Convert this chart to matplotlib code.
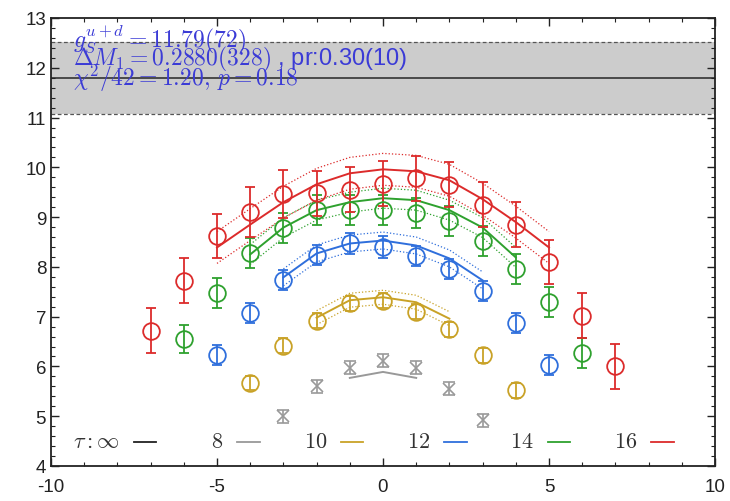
import matplotlib
matplotlib.use('Agg')
import matplotlib.pyplot as plt
from matplotlib.ticker import MultipleLocator
import numpy as np

plt.rcParams['mathtext.fontset'] = 'cm'
plt.rcParams['font.family'] = ['Liberation Sans', 'DejaVu Sans']
plt.rcParams['axes.unicode_minus'] = False

# data points per source-sink separation tau
tau_labels = ['8', '10', '12', '14', '16']
colors = ['#999999', '#c9a227', '#2f6fdc', '#2ea12e', '#dc2b2b']

x8 = [-3, -2, -1, 0, 1, 2, 3]
y8 = [5.00, 5.60, 5.97, 6.11, 5.97, 5.55, 4.92]
e8 = [0.13, 0.13, 0.13, 0.13, 0.13, 0.13, 0.13]

x10 = [-4, -3, -2, -1, 0, 1, 2, 3, 4]
y10 = [5.67, 6.42, 6.92, 7.27, 7.32, 7.10, 6.75, 6.22, 5.52]
e10 = [0.14, 0.15, 0.15, 0.15, 0.15, 0.15, 0.15, 0.15, 0.15]

x12 = [-5, -4, -3, -2, -1, 0, 1, 2, 3, 4, 5]
y12 = [6.23, 7.08, 7.73, 8.23, 8.47, 8.40, 8.22, 7.95, 7.52, 6.88, 6.02]
e12 = [0.2, 0.2, 0.2, 0.2, 0.22, 0.22, 0.2, 0.2, 0.2, 0.2, 0.2]

x14 = [-6, -5, -4, -3, -2, -1, 0, 1, 2, 3, 4, 5, 6]
y14 = [6.55, 7.48, 8.28, 8.78, 9.15, 9.15, 9.15, 9.08, 8.92, 8.52, 7.95, 7.30, 6.27]
e14 = [0.28, 0.3, 0.3, 0.3, 0.3, 0.3, 0.3, 0.3, 0.3, 0.3, 0.3, 0.3, 0.3]

x16 = [-7, -6, -5, -4, -3, -2, -1, 0, 1, 2, 3, 4, 5, 6, 7]
y16 = [6.72, 7.72, 8.62, 9.10, 9.47, 9.48, 9.55, 9.67, 9.78, 9.65, 9.25, 8.85, 8.10, 7.02, 6.00]
e16 = [0.45, 0.45, 0.45, 0.5, 0.48, 0.45, 0.45, 0.45, 0.45, 0.45, 0.45, 0.45, 0.45, 0.45, 0.45]

# fit curves and their bands
fx8 = [-1, 0, 1]
fy8 = [5.77, 5.89, 5.77]
fe8 = 0.0
fx10 = [-2, -1, 0, 1, 2]
fy10 = [6.98, 7.33, 7.39, 7.29, 6.96]
fe10 = 0.14
fx12 = [-3, -2, -1, 0, 1, 2, 3]
fy12 = [7.79, 8.27, 8.47, 8.53, 8.43, 8.17, 7.73]
fe12 = 0.17
fx14 = [-4, -3, -2, -1, 0, 1, 2, 3, 4]
fy14 = [8.25, 8.79, 9.14, 9.30, 9.38, 9.34, 9.14, 8.79, 8.19]
fe14 = 0.2
fx16 = [-5, -4, -3, -2, -1, 0, 1, 2, 3, 4, 5]
fy16 = [8.39, 8.85, 9.30, 9.66, 9.88, 9.96, 9.92, 9.74, 9.36, 8.90, 8.39]
fe16 = 0.32

gs_val = 11.79
gs_err = 0.72

points = [(x8, y8, e8), (x10, y10, e10), (x12, y12, e12), (x14, y14, e14), (x16, y16, e16)]
fits = [(fx8, fy8, fe8), (fx10, fy10, fe10), (fx12, fy12, fe12), (fx14, fy14, fe14), (fx16, fy16, fe16)]

fig = plt.figure(figsize=(7.3, 5.02), dpi=100)
ax = fig.add_axes([51 / 730, 1 - 467 / 502, 664 / 730, 448 / 502])

# plateau band
ax.axhspan(gs_val - gs_err, gs_val + gs_err, color='#cccccc', lw=0, zorder=0)
ax.axhline(gs_val, color='#333333', lw=1.2, zorder=1)
ax.axhline(gs_val + gs_err, color='#555555', lw=0.9, ls='--', dashes=(3, 2), zorder=1)
ax.axhline(gs_val - gs_err, color='#555555', lw=0.9, ls='--', dashes=(3, 2), zorder=1)

for (fx, fy, fe), c in zip(fits, colors):
    fx = np.array(fx)
    fy = np.array(fy)
    ax.plot(fx, fy, color=c, lw=1.4, zorder=2)
    if fe > 0:
        ax.plot(fx, fy + fe, color=c, lw=0.9, ls=':', zorder=2)
        ax.plot(fx, fy - fe, color=c, lw=0.9, ls=':', zorder=2)

for i, ((x, y, e), c) in enumerate(zip(points, colors)):
    if i == 0:
        ax.errorbar(x, y, yerr=e, fmt='x', color=c, ms=9, mew=1.2,
                    elinewidth=1.2, capsize=4, capthick=1.2, zorder=3)
    else:
        ax.errorbar(x, y, yerr=e, fmt='o', color=c, mfc='none', ms=12, mew=1.3,
                    elinewidth=1.3, capsize=3.5, capthick=1.3, zorder=3)

txt_color = '#3b3bd6'
ax.text(-9.35, 12.58, r'$g_S^{u+d} = 11.79(72)$', color=txt_color, fontsize=17, va='center')
ax.text(-9.35, 12.18, r'$\Delta M_1 = 0.2880(328)$ , pr:0.30(10)', color=txt_color, fontsize=17, va='center')
ax.text(-9.35, 11.80, r'$\chi^2/42 = 1.20,\, p = 0.18$', color=txt_color, fontsize=17, va='center')

# key along the bottom, gnuplot style: label then a short line
key_labels = [r'$\tau:\infty$'] + ['$' + t + '$' for t in tau_labels]
key_colors = ['#222222'] + colors
key_y = 4.49
for k, (lab, c) in enumerate(zip(key_labels, key_colors)):
    x0 = -7.5 + 3.117 * k
    ax.plot([x0, x0 + 0.67], [key_y, key_y], color=c, lw=1.3)
    ax.text(x0 - 0.42, key_y, lab, color='#333333', fontsize=16, ha='right', va='center')

ax.set_xlim(-10, 10)
ax.set_ylim(4, 13)
ax.xaxis.set_major_locator(MultipleLocator(5))
ax.xaxis.set_minor_locator(MultipleLocator(1))
ax.yaxis.set_major_locator(MultipleLocator(1))
ax.yaxis.set_minor_locator(MultipleLocator(0.2))
ax.tick_params(which='both', direction='in', top=True, right=True, labelsize=13.5, colors='#222222')
ax.tick_params(which='major', length=6, width=1)
ax.tick_params(which='minor', length=3, width=0.8)
ax.tick_params(axis='x', which='major', pad=9)
for s in ax.spines.values():
    s.set_linewidth(1.3)
    s.set_color('#222222')

fig.savefig('out.png', dpi=100)
